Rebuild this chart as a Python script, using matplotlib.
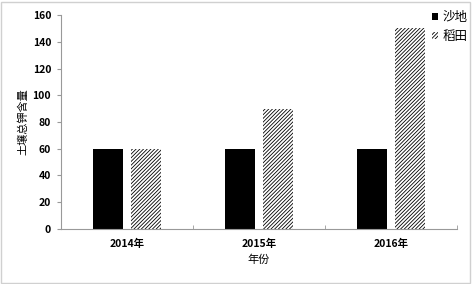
import matplotlib.pyplot as plt
import matplotlib.patches as mpatches
import numpy as np

plt.rcParams['font.family'] = ['Noto Sans CJK SC', 'DejaVu Sans']
plt.rcParams['hatch.linewidth'] = 0.6

years = ["2014年", "2015年", "2016年"]
sand = [60, 60, 60]
paddy = [60, 90, 150]
yticks = [0, 20, 40, 60, 80, 100, 120, 140, 160]

fig = plt.figure(figsize=(4.72, 2.84), dpi=100)
ax = fig.add_axes([0.129, 0.194, 0.839, 0.753])

x = np.arange(len(years))
w = 0.227
ax.bar(x - w / 2 - 0.03, sand, w, color="black", label="沙地")
ax.bar(x + w / 2 + 0.03, paddy, w, color="white", edgecolor="black",
       hatch="/////////", linewidth=0, label="稻田")

ax.set_xlim(-0.5, 2.5)
ax.set_ylim(0, 160)
ax.set_yticks(yticks)
ax.set_xticks(x)
ax.set_xticklabels(years, fontweight="bold", fontsize=7.5)
ax.set_xticks([0.5, 1.5, 2.5], minor=True)
for lab in ax.get_yticklabels():
    lab.set_fontweight("bold")
    lab.set_fontsize(7.5)
ax.tick_params(axis="x", which="major", length=0, pad=7)
ax.tick_params(axis="x", which="minor", length=3, color="#999999", direction="in")
ax.tick_params(axis="y", length=3, color="#999999", pad=4)

for s in ["top", "right"]:
    ax.spines[s].set_visible(False)
for s in ["left", "bottom"]:
    ax.spines[s].set_color("#999999")
    ax.spines[s].set_linewidth(0.8)

ax.set_xlabel("年份", fontsize=8, labelpad=4)
ax.set_ylabel("土壤总钾含量", fontsize=8, labelpad=3)

fig.legend(loc="upper left", bbox_to_anchor=(0.905, 0.98), frameon=False,
           fontsize=9, handlelength=0.5, handleheight=0.5, handletextpad=0.3,
           labelspacing=0.5, borderaxespad=0)

fig.add_artist(mpatches.Rectangle((0.002, 0.004), 0.994, 0.99, transform=fig.transFigure,
                                  fill=False, edgecolor="#d0d0d0", linewidth=1))

fig.savefig("out.png", dpi=100)
